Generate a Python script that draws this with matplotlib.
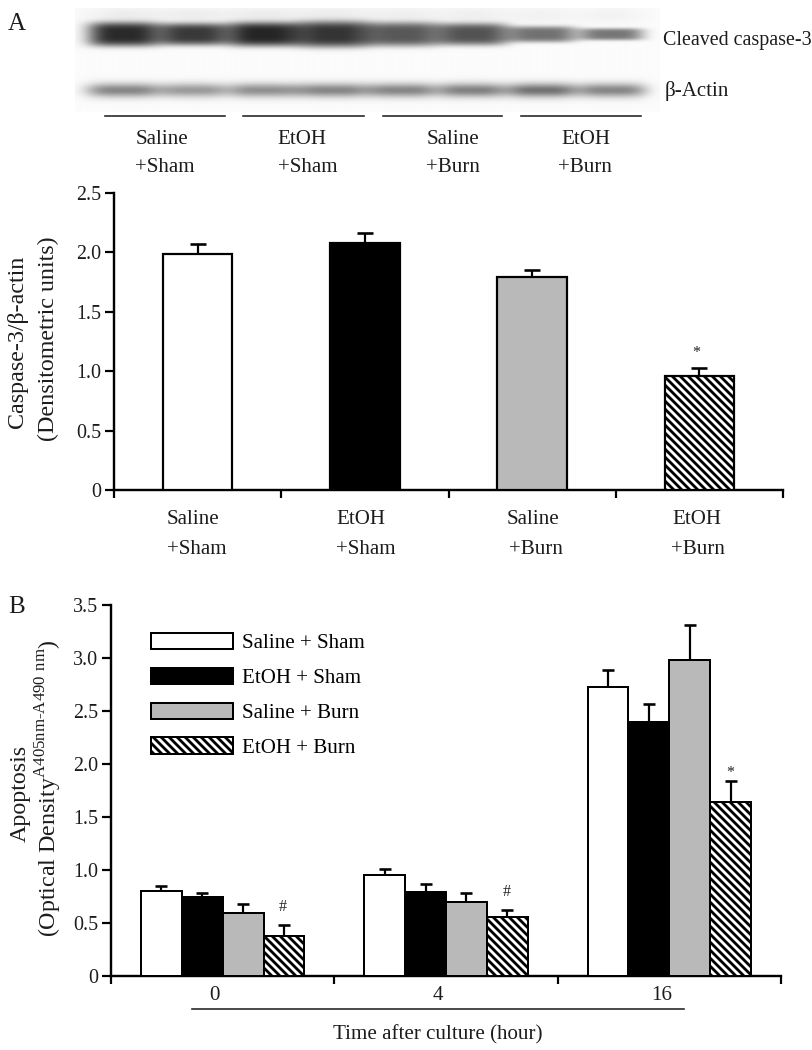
import matplotlib
matplotlib.use('Agg')
import matplotlib.pyplot as plt
from matplotlib.lines import Line2D
import numpy as np

# figure is set up at 72 dpi so 1 pt = 1 px
W, H = 812, 1050

plt.rcParams['font.family'] = ['Liberation Serif', 'DejaVu Serif']
plt.rcParams['mathtext.fontset'] = 'custom'
plt.rcParams['mathtext.rm'] = 'Liberation Serif'
plt.rcParams['hatch.linewidth'] = 2.8

# blot band strength per lane
caspase_density = [0.82, 0.76, 0.84, 0.78, 0.64, 0.66, 0.54, 0.52]
caspase_width = [0.52, 0.50, 0.52, 0.54, 0.52, 0.52, 0.50, 0.46]
caspase_height = [12, 11, 12, 13, 12, 11, 8, 6]
actin_density = [0.46, 0.38, 0.42, 0.46, 0.46, 0.48, 0.54, 0.46]
actin_width = [0.54, 0.48, 0.52, 0.54, 0.50, 0.50, 0.50, 0.50]

# panel A
groups_a = ['Saline\n+Sham', 'EtOH\n+Sham', 'Saline\n+Burn', 'EtOH\n+Burn']
means_a = [1.99, 2.08, 1.79, 0.96]
errs_a = [0.08, 0.08, 0.06, 0.07]
ticks_a = [0, 0.5, 1.0, 1.5, 2.0, 2.5]

# panel B
series_b = ['Saline + Sham', 'EtOH + Sham', 'Saline + Burn', 'EtOH + Burn']
hours = ['0', '4', '16']
means_b = [[0.80, 0.95, 2.73],
           [0.75, 0.79, 2.40],
           [0.59, 0.70, 2.98],
           [0.38, 0.56, 1.64]]
errs_b = [[0.05, 0.06, 0.16],
          [0.03, 0.08, 0.17],
          [0.09, 0.08, 0.33],
          [0.10, 0.06, 0.20]]
ticks_b = [0, 0.5, 1.0, 1.5, 2.0, 2.5, 3.0, 3.5]

fills = ['white', 'black', '#b9b9b9', 'white']
hatches = [None, None, None, '\\\\\\']


def fmt(v):
    return '0' if v == 0 else '%.1f' % v


def add_axes_px(left, top, right, bottom):
    return fig.add_axes([left / W, 1 - bottom / H, (right - left) / W, (bottom - top) / H])


def txt(x, y, s, size=21, **kw):
    kw.setdefault('ha', 'center')
    kw.setdefault('va', 'center')
    fig.text(x / W, 1 - (y + 2) / H, s, fontsize=size, color='#1c1c1c', **kw)


def hline(x0, x1, y, lw=1.6):
    fig.add_artist(Line2D([x0 / W, x1 / W], [1 - y / H, 1 - y / H], color='#222222', lw=lw))


def style(ax, ticks):
    for side in ['top', 'right']:
        ax.spines[side].set_visible(False)
    for side in ['left', 'bottom']:
        ax.spines[side].set_linewidth(2.4)
    ax.set_yticks(ticks)
    ax.set_yticklabels([fmt(t) for t in ticks], fontsize=20, color='#1c1c1c')
    ax.tick_params(axis='y', length=9, width=2.2, pad=4)
    ax.tick_params(axis='x', length=8, width=2.2)
    ax.patch.set_alpha(0)


fig = plt.figure(figsize=(W / 72, H / 72), dpi=72)

# western blot strip
blot = add_axes_px(75, 8, 660, 112)
yy, xx = np.mgrid[8:112:0.5, -0.7:7.7:0.01]
img = np.full(yy.shape, 0.015)
for i in range(8):
    dx = (xx - i) / caspase_width[i]
    dy = (yy - 34) / caspase_height[i]
    img += caspase_density[i] * np.exp(-(dx ** 4) - (dy ** 4))
    # smear above the strong bands
    img += 0.07 * caspase_density[i] * np.exp(-(dx ** 2) - ((yy - 15) / 9) ** 2)
    dx = (xx - i) / actin_width[i]
    dy = (yy - 90) / 7
    img += actin_density[i] * np.exp(-(dx ** 4) - (dy ** 2))
blot.imshow(np.clip(img, 0, 1), cmap='gray_r', vmin=0, vmax=1, aspect='auto',
            extent=[-0.7, 7.7, 112, 8], interpolation='bilinear')
blot.axis('off')

txt(17, 22, 'A', size=25)
txt(17, 605, 'B', size=25)
txt(663, 39, 'Cleaved caspase-3', size=20, ha='left')
txt(665, 89, 'β-Actin', size=21, ha='left')

for x0, x1 in [(105, 225), (243, 364), (383, 502), (521, 641)]:
    hline(x0, x1, 115.5)
for cx1, cx2, g in zip([162, 302, 453, 586], [165, 308, 453, 585], groups_a):
    a, b = g.split('\n')
    txt(cx1, 138, a)
    txt(cx2, 165, b)

# panel A bars
ax = add_axes_px(114, 193, 783, 490)
xa = np.arange(4)
for i in xa:
    ax.bar(i, means_a[i], width=0.415, color=fills[i], hatch=hatches[i],
           edgecolor='black', linewidth=2.2, zorder=3)
ax.errorbar(xa, means_a, yerr=[np.zeros(4), errs_a], fmt='none', ecolor='black',
            elinewidth=2.2, capsize=8, capthick=2.6, zorder=2)
ax.set_xlim(-0.5, 3.5)
ax.set_ylim(0, 2.5)
ax.set_xticks(np.arange(5) - 0.5)
ax.set_xticklabels([])
style(ax, ticks_a)
ax.annotate('*', (3, means_a[3] + errs_a[3]), xytext=(-3, 7), textcoords='offset points',
            ha='center', va='bottom', fontsize=16, color='#222222')

for cx1, cx2, g in zip([193, 361, 533, 697], [197, 366, 536, 698], groups_a):
    a, b = g.split('\n')
    txt(cx1, 518, a)
    txt(cx2, 547, b)
txt(18, 340, 'Caspase-3/β-actin', size=24, rotation=90)
txt(48, 337, '(Densitometric units)', size=24, rotation=90)

# panel B bars
ax2 = add_axes_px(111, 605, 781, 976)
step = 0.183
xb = np.arange(3)
for i in range(4):
    xs = xb + (i - 1.5) * step
    ax2.bar(xs, means_b[i], width=step, color=fills[i], hatch=hatches[i],
            edgecolor='black', linewidth=2.0, label=series_b[i], zorder=3)
    ax2.errorbar(xs, means_b[i], yerr=[np.zeros(3), errs_b[i]], fmt='none', ecolor='black',
                 elinewidth=2.2, capsize=6, capthick=2.6, zorder=2)
ax2.set_xlim(-0.5, 2.5)
ax2.set_ylim(0, 3.5)
ax2.set_xticks(np.arange(4) - 0.5)
ax2.set_xticklabels([])
style(ax2, ticks_b)

top3 = xb[2] + 1.5 * step
ax2.annotate('*', (top3, means_b[3][2] + errs_b[3][2]), xytext=(0, 0), textcoords='offset points',
             ha='center', va='bottom', fontsize=16, color='#222222')
for j in [0, 1]:
    ax2.annotate('#', (xb[j] + 1.5 * step, means_b[3][j] + errs_b[3][j]), xytext=(-1, 10),
                 textcoords='offset points', ha='center', va='bottom', fontsize=16, color='#222222')
for j, h in enumerate(hours):
    ax2.annotate(h, (xb[j], 0), xytext=(-8, -20), textcoords='offset points',
                 ha='center', va='center', fontsize=21, color='#1c1c1c', annotation_clip=False)

leg = ax2.legend(loc='upper left', bbox_to_anchor=(40 / 670, 1 - 28 / 371), frameon=False,
                 fontsize=21, handlelength=3.9, handleheight=0.8, handletextpad=0.43,
                 labelspacing=0.69, borderpad=0, borderaxespad=0)

hline(192, 684, 1009, lw=1.6)
txt(438, 1033, 'Time after culture (hour)', size=21)
txt(20, 791, 'Apoptosis', size=24, rotation=90)
txt(49, 786, '(Optical Density$^{\\mathrm{A405nm\\text{-}A490\\ nm}}$)', size=24, rotation=90)

fig.savefig('out.png', dpi=72)
